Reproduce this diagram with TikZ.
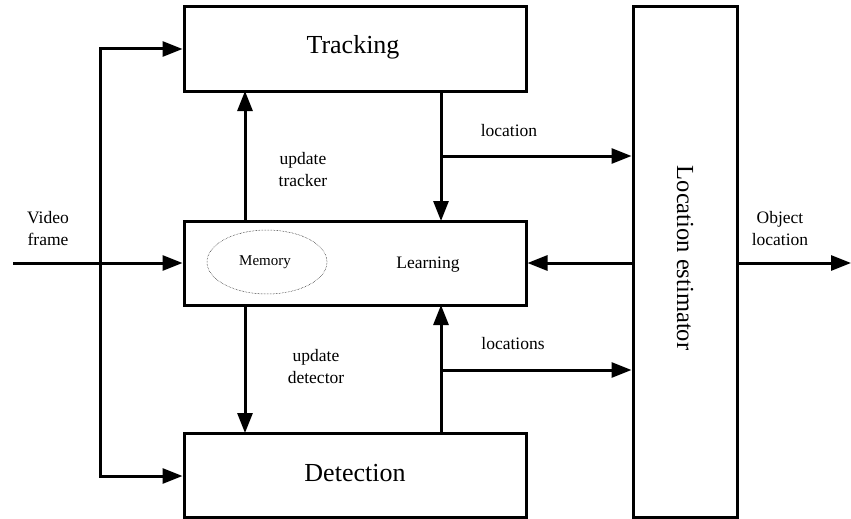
\documentclass[tikz,border=0pt]{standalone}
\usepackage{fontspec}
\setmainfont{Liberation Serif}
\usetikzlibrary{arrows.meta,shapes.geometric}
\begin{document}
\begin{tikzpicture}[x=1pt,y=-1pt,
  blockbox/.style={draw,line width=3pt,minimum width=342pt,inner sep=0pt},
  conn/.style={line width=3pt,-{Triangle[length=20pt,width=15pt]}},
  twoway/.style={line width=3pt,{Triangle[length=20pt,width=15pt]}-{Triangle[length=20pt,width=15pt]}},
  biglabel/.style={font=\fontsize{26}{30}\selectfont},
  smalllabel/.style={font=\fontsize{17.5}{22}\selectfont,align=center}]
\useasboundingbox (0,0) rectangle (851,519);

% main blocks
\node[blockbox,minimum height=84pt] (track) at (355,49) {};
\node[biglabel] at (353,47) {Tracking};
\node[blockbox,minimum height=84pt] (learn) at (355,263) {};
\node[blockbox,minimum height=84pt] (detect) at (355,475) {};
\node[biglabel] at (355,473) {Detection};
\node[draw,line width=3pt,minimum width=104pt,minimum height=510pt,inner sep=0pt] (est) at (685,262) {};
\node[rotate=-90,font=\fontsize{24.5}{28}\selectfont] at (685,258) {Location estimator};

% memory inside the learning block
\node[draw,densely dotted,line width=0.5pt,ellipse,minimum width=120pt,minimum height=64pt,inner sep=0pt] (mem) at (267,262) {};
\node[font=\fontsize{15}{18}\selectfont] at (265,262) {Memory};
\node[font=\fontsize{17.5}{20}\selectfont] at (428,265) {Learning};

% video input and its branches
\coordinate (in) at (13,263);
\draw[conn] (in) -- (learn.west |- in);
\coordinate (sptop) at (100,49);
\coordinate (spbot) at (100,476);
\draw[twoway,line join=miter] (track.west |- sptop) -- (sptop) -- (spbot) -- (detect.west |- spbot);
\node[smalllabel] at (48,229) {Video\\frame};

% learning updates tracker and detector
\coordinate (ua) at (245,221);
\coordinate (ub) at (245,91);
\draw[conn] (ua) -- (ub);
\coordinate (da) at (245,305);
\coordinate (db) at (245,433);
\draw[conn] (da) -- (db);
\node[smalllabel] at (303,170) {update\\tracker};
\node[smalllabel] at (316,367) {update\\detector};

% tracker output
\coordinate (ta) at (441,91);
\coordinate (tb) at (441,221);
\coordinate (tbr) at (441,156);
\draw[conn] (ta) -- (tb);
\draw[conn] (tbr) -- (est.west |- tbr);
\node[smalllabel] at (509,131) {location};

% detector output
\coordinate (dxa) at (441,433);
\coordinate (dxb) at (441,305);
\coordinate (dbr) at (441,370);
\draw[conn] (dxa) -- (dxb);
\draw[conn] (dbr) -- (est.west |- dbr);
\node[smalllabel] at (513,344) {locations};

% estimator feedback and final output
\draw[conn] (est.west |- learn.east) -- (learn.east);
\coordinate (out) at (851,263);
\draw[conn] (est.east |- out) -- (out);
\node[smalllabel] at (780,229) {Object\\location};
\end{tikzpicture}
\end{document}
